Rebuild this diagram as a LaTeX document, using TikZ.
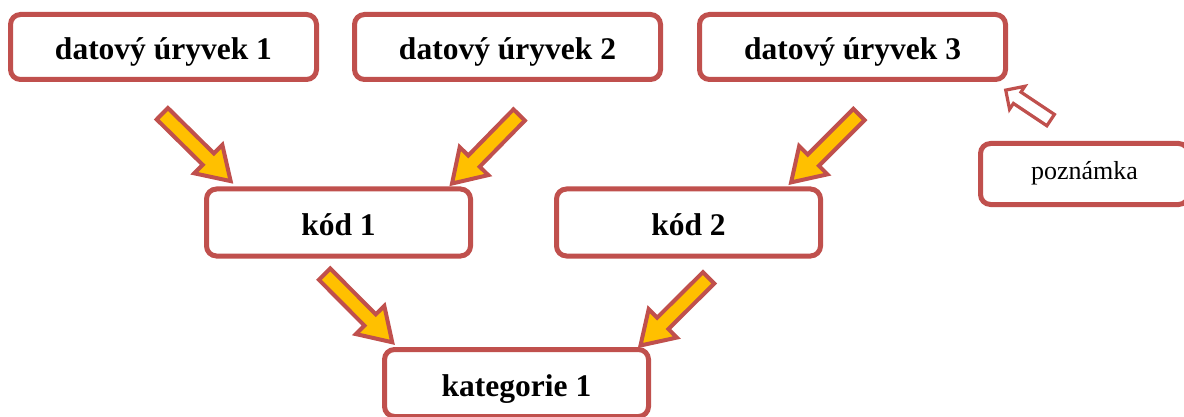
\documentclass[tikz,border=0pt]{standalone}
\usepackage{fontspec}
\setmainfont{Liberation Serif}
\usetikzlibrary{shapes.arrows}

\definecolor{boxred}{HTML}{C0504D}
\definecolor{arrowgold}{HTML}{FFC000}

\begin{document}
\begin{tikzpicture}[x=0.5pt, y=-0.5pt,
        box/.style={draw=boxred, line width=2.5pt, rounded corners=5pt, fill=white,
            text height=13pt, text depth=0pt,
            font=\fontsize{15.75}{18}\selectfont\bfseries},
        databox/.style={box, minimum width=153pt, minimum height=32.5pt},
        codebox/.style={box, minimum width=132pt, minimum height=33.5pt},
        notebox/.style={box, minimum width=104pt, minimum height=30.5pt,
            text height=6pt, font=\fontsize{13}{15}\selectfont},
        fatarrow/.style={single arrow, draw=boxred, fill=arrowgold, line width=2pt,
            inner sep=3pt, single arrow head extend=6pt, single arrow tip angle=65,
            minimum height=48pt, minimum width=0pt},
        notearrow/.style={single arrow, draw=boxred, fill=white, line width=1.6pt,
            inner sep=2.6pt, single arrow head extend=3.5pt,
            minimum height=27pt, minimum width=0pt}]
        \useasboundingbox (0, 0) rectangle (1184, 417);

        \node[databox] (d1) at (163.5, 47) {datový úryvek 1};
        \node[databox] (d2) at (507.5, 47) {datový úryvek 2};
        \node[databox] (d3) at (852.5, 47) {datový úryvek 3};

        \node[codebox] (k1) at (338.5, 222.5) {kód 1};
        \node[codebox] (k2) at (688.5, 222.5) {kód 2};
        \node[codebox] (kat) at (516.5, 383) {kategorie 1};

        \node[notebox] (pozn) at (1084.5, 174) {poznámka};

        \newcommand{\codearrow}[3][fatarrow]{
            \path (#2) -- (#3) node[midway, sloped, allow upside down, #1] {};
        }

        \codearrow{[shift={(-7.5, 25.5)}]d1.south}{[shift={(24, -8)}]k1.north west}
        \codearrow{[shift={(17.5, 27)}]d2.south}{[shift={(-18, -6)}]k1.north east}
        \codearrow{[shift={(12.5, 26.5)}]d3.south}{[shift={(-29, -7)}]k2.north east}
        \codearrow{[shift={(-19.5, 10)}]k1.south}{[shift={(7, -8)}]kat.north west}
        \codearrow{[shift={(25.5, 14)}]k2.south}{[shift={(-7, -5)}]kat.north east}
        \codearrow[notearrow]{[shift={(77, -18)}]pozn.north west}{[shift={(-1, 9)}]d3.south east}
    \end{tikzpicture}
\end{document}
